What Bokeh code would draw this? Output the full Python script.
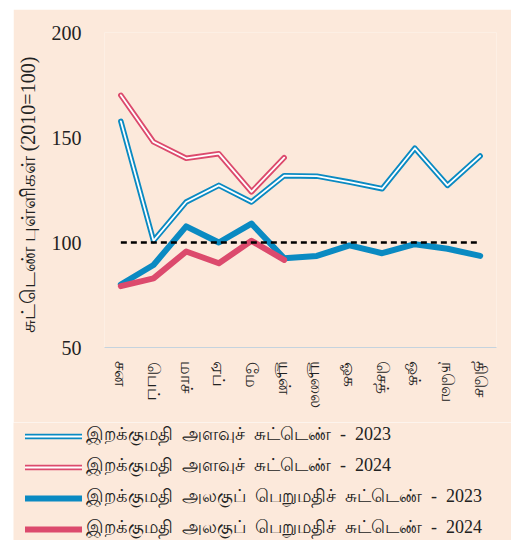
from bokeh.plotting import figure
from bokeh.models import Range1d, FactorRange, Legend, LegendItem, Spacer
from bokeh.layouts import column, row
from bokeh.embed import file_html
from bokeh.resources import INLINE

months = ["சன", "பெப்", "மாச்", "ஏப்", "மே", "யூன்", "யூலை", "ஓக", "செத்", "ஒக்", "நவெ", "திசெ"]
vol_2023 = [157.7, 100.8, 119.3, 127.2, 119.3, 131.8, 131.6, 128.8, 125.6, 144.9, 127.2, 141.2]
vol_2024 = [170.1, 147.9, 140.1, 142.3, 124.1, 140.4]
uv_2023 = [80.0, 89.3, 107.7, 100.0, 109.0, 92.5, 93.6, 98.6, 94.9, 99.2, 97.0, 93.6]
uv_2024 = [79.2, 82.9, 95.7, 90.1, 100.8, 91.7]
base = [100] * 12

labels = [
    "இறக்குமதி  அளவுச்  சுட்டெண்  -  2023",
    "இறக்குமதி  அளவுச்  சுட்டெண்  -  2024",
    "இறக்குமதி  அலகுப்  பெறுமதிச்  சுட்டெண்  -  2023",
    "இறக்குமதி  அலகுப்  பெறுமதிச்  சுட்டெண்  -  2024",
]
y_label = "சுட்டெண்  புள்ளிகள்  (2010=100)"

BG = "#FCE9DB"
BLUE = "#0A8AC2"
RED = "#DC4A6D"
SERIF = "Liberation Serif"

kw = dict(line_join="round", line_cap="round")


def draw_series(fig):
    r = []
    r.append(fig.line(months, vol_2023, line_color=BLUE, line_width=5.5, **kw))
    r.append(fig.line(months, vol_2023, line_color="white", line_width=1.8, **kw))
    r.append(fig.line(months[:len(vol_2024)], vol_2024, line_color=RED, line_width=5.5, **kw))
    r.append(fig.line(months[:len(vol_2024)], vol_2024, line_color="white", line_width=1.8, **kw))
    r.append(fig.line(months, uv_2023, line_color=BLUE, line_width=6, **kw))
    r.append(fig.line(months[:len(uv_2024)], uv_2024, line_color=RED, line_width=6, **kw))
    return r


# main chart
p = figure(width=498, height=413, x_range=FactorRange(*months), y_range=Range1d(50, 200),
           output_backend="svg", toolbar_location=None,
           min_border_left=87, min_border_right=15, min_border_top=23, min_border_bottom=75)
p.background_fill_color = BG
p.border_fill_color = BG
p.outline_line_color = None
p.xgrid.grid_line_color = None
p.ygrid.grid_line_color = None

p.yaxis.ticker = [50, 100, 150, 200]
p.yaxis.axis_line_color = None
p.yaxis.major_tick_line_color = None
p.yaxis.minor_tick_line_color = None
p.yaxis.major_label_text_font = SERIF
p.yaxis.major_label_text_font_size = "20px"
p.yaxis.major_label_text_color = "#222222"
p.yaxis.major_label_standoff = 17
p.yaxis.axis_label = y_label
p.yaxis.axis_label_text_font = SERIF
p.yaxis.axis_label_text_font_size = "20px"
p.yaxis.axis_label_text_font_style = "normal"
p.yaxis.axis_label_text_color = "#222222"
p.yaxis.axis_label_standoff = 10

p.xaxis.axis_line_color = "#C5D3DE"
p.xaxis.axis_line_width = 1
p.xaxis.major_tick_line_color = None
p.xaxis.minor_tick_line_color = None
p.xaxis.major_label_orientation = "vertical"
p.xaxis.major_label_text_font = SERIF
p.xaxis.major_label_text_font_size = "17px"
p.xaxis.major_label_text_color = "#222222"
p.xaxis.major_label_standoff = 8

draw_series(p)
p.line(months, base, line_color="black", line_width=2.5, line_dash="6 4")

# legend panel: same series, kept outside its visible range, only their swatches show
q = figure(width=498, height=118, x_range=FactorRange(*months), y_range=Range1d(0, 1),
           output_backend="svg", toolbar_location=None,
           x_axis_type=None, y_axis_type=None,
           min_border_left=0, min_border_right=0, min_border_top=0, min_border_bottom=0)
q.frame_align = False
q.background_fill_color = BG
q.border_fill_color = BG
q.outline_line_color = None
q.xgrid.grid_line_color = None
q.ygrid.grid_line_color = None

o1, i1, o2, i2, s1, s2 = draw_series(q)

legend = Legend(items=[
    LegendItem(label=labels[0], renderers=[o1, i1]),
    LegendItem(label=labels[1], renderers=[o2, i2]),
    LegendItem(label=labels[2], renderers=[s1]),
    LegendItem(label=labels[3], renderers=[s2]),
], location=(12, 0))
legend.background_fill_alpha = 0
legend.border_line_color = None
legend.padding = 0
legend.margin = 0
legend.spacing = 8
legend.glyph_width = 57
legend.glyph_height = 20
legend.label_height = 20
legend.label_standoff = 4
legend.label_text_font = SERIF
legend.label_text_font_size = "18px"
legend.label_text_color = "#222222"
q.add_layout(legend, "center")

layout = column(Spacer(height=9), row(Spacer(width=13), column(p, q, spacing=0), spacing=0), spacing=0)
open("out.html", "w").write(file_html(layout, INLINE))
